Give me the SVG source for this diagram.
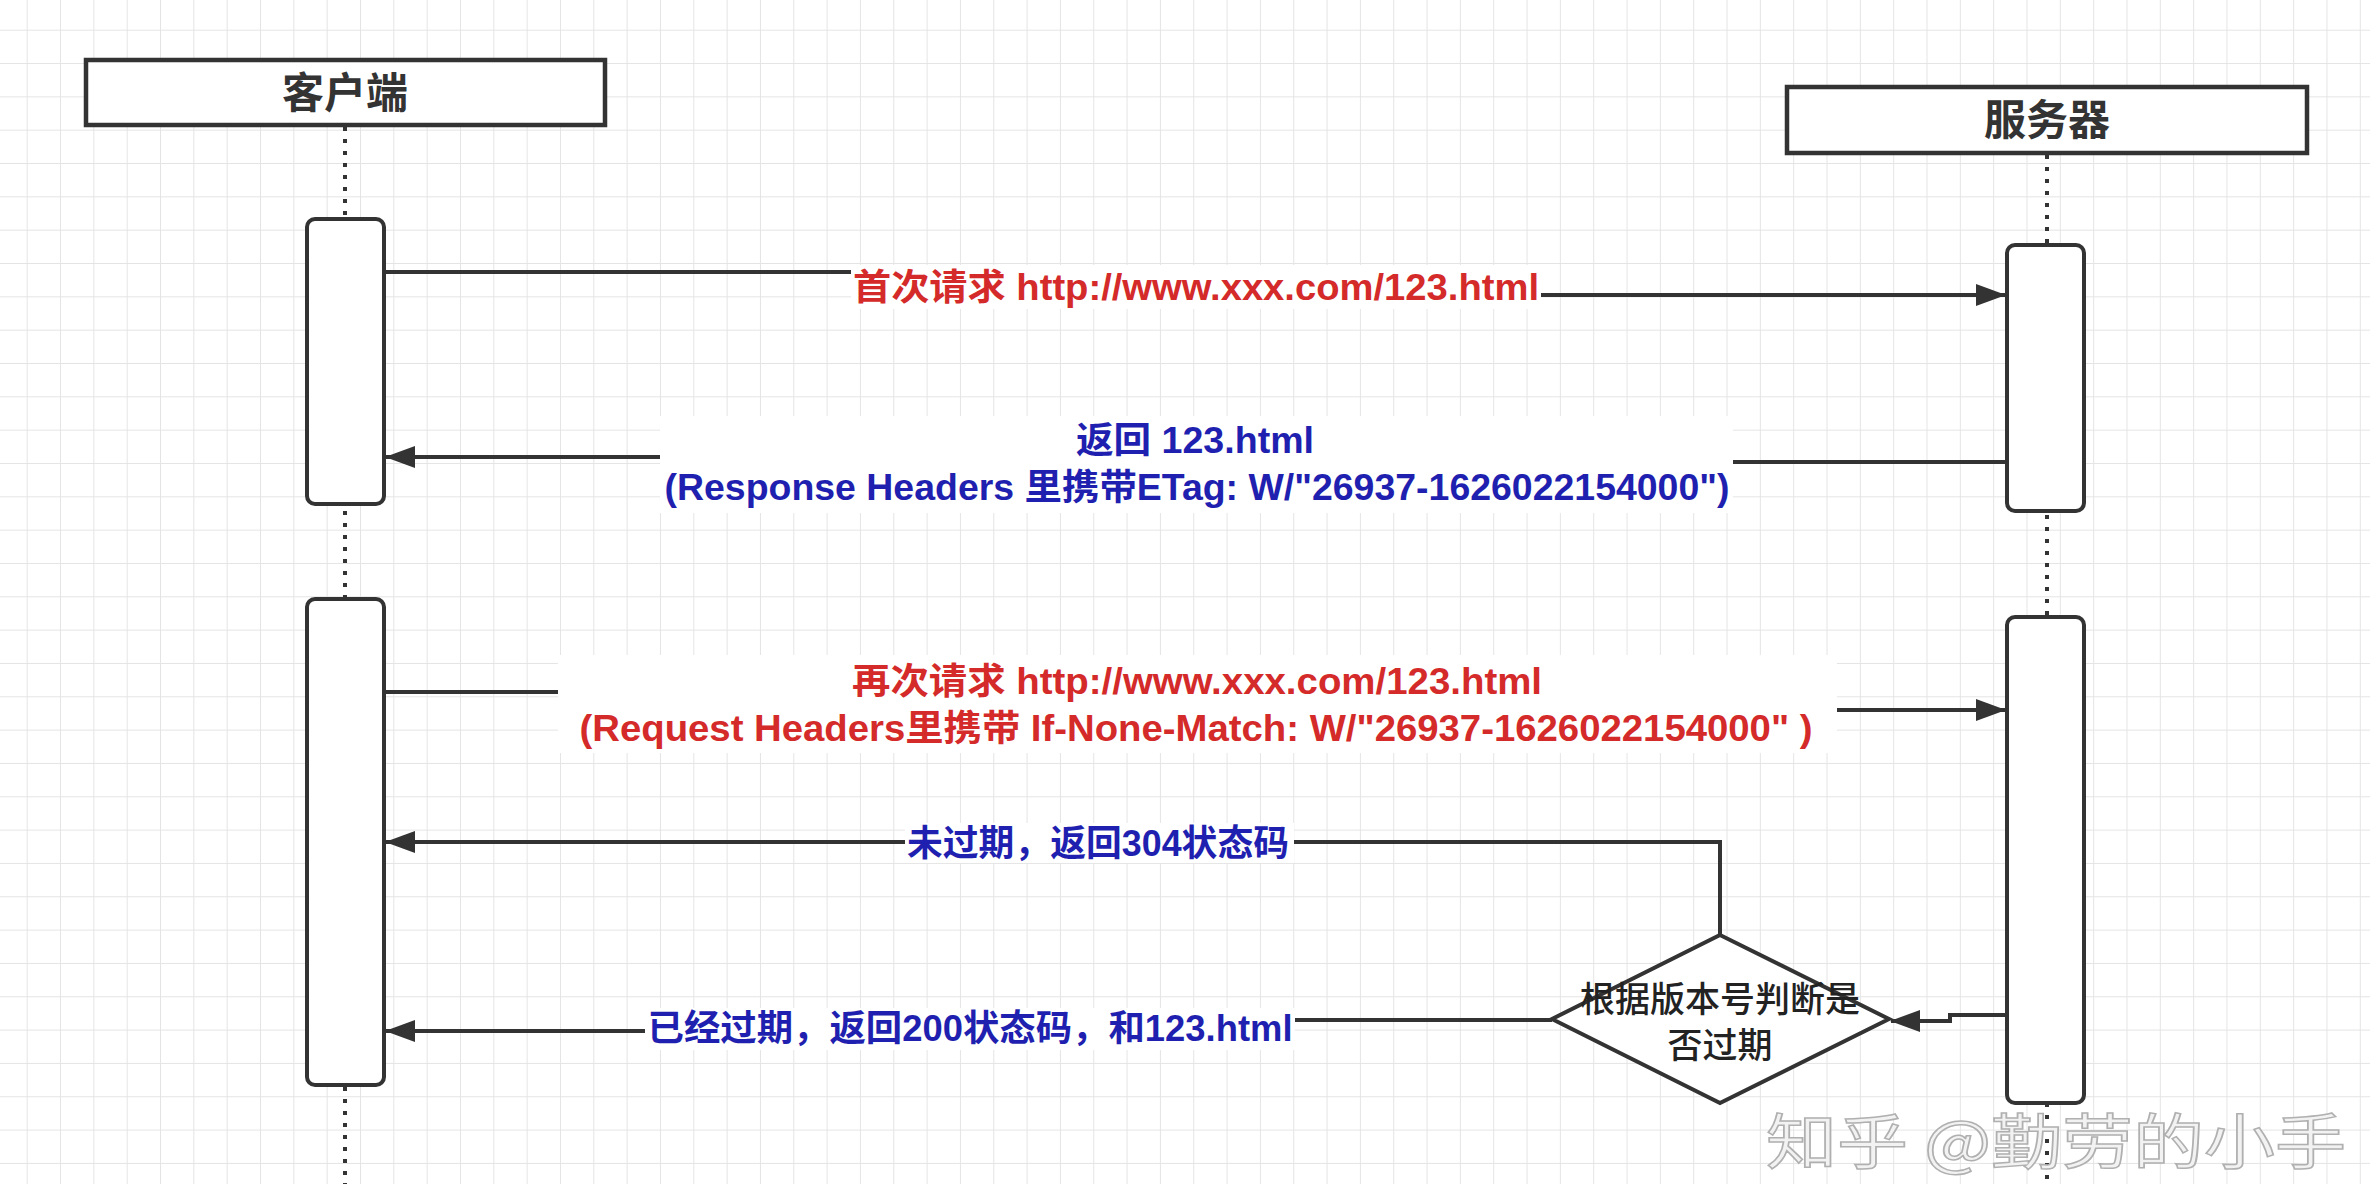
<svg xmlns="http://www.w3.org/2000/svg" width="2370" height="1184" viewBox="0 0 2370 1184">
<style>
.box{fill:#fff;stroke:#333;stroke-width:4.5}
.act{fill:#fff;stroke:#333;stroke-width:4}
.life{fill:none;stroke:#333;stroke-width:4;stroke-dasharray:4 8}
.edge{fill:none;stroke:#333;stroke-width:4}
.bg{fill:#fff}
.lbl{font-family:"Liberation Sans","Noto Sans CJK SC",sans-serif;font-weight:bold;font-size:36px;text-anchor:middle}
.red{fill:#d42a2a}
.blue{fill:#1f1fb0}
.hdr{font-family:"Liberation Sans","Noto Sans CJK SC",sans-serif;font-weight:bold;font-size:42px;fill:#333;text-anchor:middle}
.dec{font-family:"Noto Sans CJK SC",sans-serif;font-weight:500;font-size:35px;fill:#222;text-anchor:middle}
.wm{font-family:"Noto Sans CJK SC",sans-serif;font-size:60px;fill:#f2f2f2;stroke:#b0b0b0;stroke-width:1.5}
</style>
<defs>
<pattern id="grid" x="26.7" y="29.7" width="33.33" height="33.33" patternUnits="userSpaceOnUse">
<path d="M0,0 H33.33 M0,0 V33.33" fill="none" stroke="#e4e4e4" stroke-width="2"/>
</pattern>
<marker id="arr" markerUnits="userSpaceOnUse" markerWidth="30" markerHeight="22" viewBox="0 0 30 22" refX="29" refY="11" orient="auto">
<path d="M0,0 L30,11 L0,22 z" fill="#333"/>
</marker>
</defs>
<rect width="2370" height="1184" fill="#fff"/>
<rect width="2370" height="1184" fill="url(#grid)"/>

<g id="lifelines">
<line class="life" x1="345" y1="127" x2="345" y2="1184"/>
<line class="life" x1="2047" y1="155" x2="2047" y2="1184"/>
</g>

<g id="client">
<rect class="box" x="86" y="60" width="519" height="65"/>
<text class="hdr" x="345" y="108">客户端</text>
</g>
<g id="server">
<rect class="box" x="1787" y="87" width="520" height="66"/>
<text class="hdr" x="2047" y="135">服务器</text>
</g>
<g id="client-act1"><rect class="act" x="307" y="219" width="77" height="285" rx="8"/></g>
<g id="client-act2"><rect class="act" x="307" y="599" width="77" height="486" rx="8"/></g>
<g id="server-act1"><rect class="act" x="2007" y="245" width="77" height="266" rx="8"/></g>
<g id="server-act2"><rect class="act" x="2007" y="617" width="77" height="486" rx="8"/></g>
<g id="decision">
<path d="M1720,935 L1889,1019 L1720,1103 L1552,1019 Z" fill="#fff" stroke="#333" stroke-width="4"/>
<text class="dec" x="1720" y="1012">根据版本号判断是</text>
<text class="dec" x="1720" y="1058">否过期</text>
</g>

<g id="connectors">
<path class="edge" d="M384,272 H1196 V295 H2005" marker-end="url(#arr)"/>
<path class="edge" d="M2007,462 H1200 V457 H386" marker-end="url(#arr)"/>
<path class="edge" d="M384,692 H1200 V710 H2005" marker-end="url(#arr)"/>
<path class="edge" d="M1720,935 V842 H386" marker-end="url(#arr)"/>
<path class="edge" d="M1552,1020 H1000 V1031 H386" marker-end="url(#arr)"/>
<path class="edge" d="M2007,1015 H1950 V1021 H1891" marker-end="url(#arr)"/>

<rect class="bg" x="851" y="265" width="690" height="44"/>
<text class="lbl red" x="1196" y="300" textLength="686" lengthAdjust="spacingAndGlyphs">首次请求 http://www.xxx.com/123.html</text>

<rect class="bg" x="660" y="416" width="1073" height="97"/>
<text class="lbl blue" x="1195" y="453" textLength="238" lengthAdjust="spacingAndGlyphs">返回 123.html</text>
<text class="lbl blue" x="1197" y="500" textLength="1065" lengthAdjust="spacingAndGlyphs">(Response Headers 里携带ETag: W/"26937-1626022154000")</text>

<rect class="bg" x="558" y="655" width="1279" height="98"/>
<text class="lbl red" x="1197" y="694" textLength="690" lengthAdjust="spacingAndGlyphs">再次请求 http://www.xxx.com/123.html</text>
<text class="lbl red" x="1196" y="741" textLength="1233" lengthAdjust="spacingAndGlyphs">(Request Headers里携带 If-None-Match: W/"26937-1626022154000" )</text>

<rect class="bg" x="905" y="823" width="389" height="40"/>
<text class="lbl blue" x="1098" y="856" textLength="382" lengthAdjust="spacingAndGlyphs">未过期，返回304状态码</text>

<rect class="bg" x="645" y="1008" width="650" height="42"/>
<text class="lbl blue" x="970" y="1041" textLength="645" lengthAdjust="spacingAndGlyphs">已经过期，返回200状态码，和123.html</text>
</g>

<text class="wm" x="1766" y="1164" textLength="580" lengthAdjust="spacingAndGlyphs">知乎 @勤劳的小手</text>
</svg>
